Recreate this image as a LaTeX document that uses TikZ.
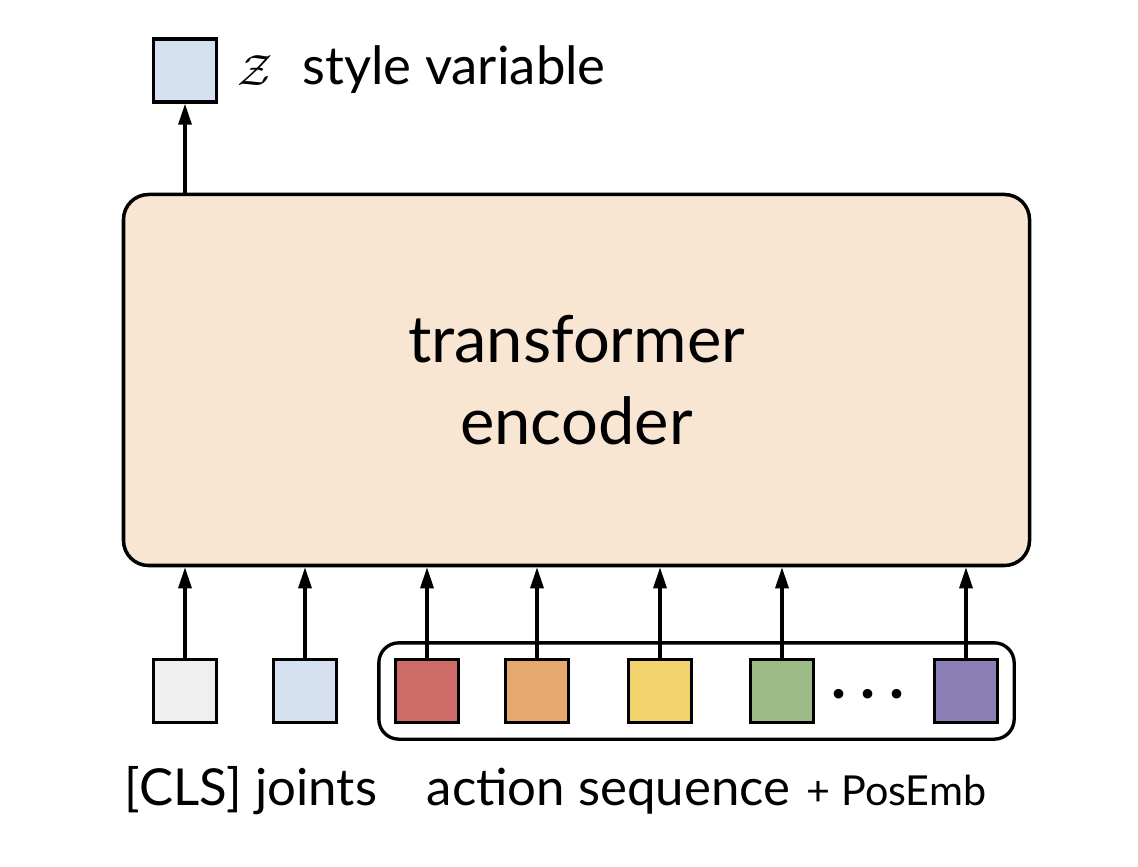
\documentclass[tikz,border=0pt]{standalone}
\usepackage{fontspec}
\setmainfont{Lato}
\usetikzlibrary{positioning,fit,arrows.meta}
\definecolor{encfill}{HTML}{F8E5D2}
\definecolor{clsfill}{HTML}{EFEFEF}
\definecolor{jntfill}{HTML}{D5E1F0}
\definecolor{aRed}{HTML}{CC6B68}
\definecolor{aOrange}{HTML}{E5A96E}
\definecolor{aYellow}{HTML}{F2D36E}
\definecolor{aGreen}{HTML}{9BBA85}
\definecolor{aPurple}{HTML}{8C7FB5}
\tikzset{
    token/.style={draw=black, line width=1.9pt, minimum size=1.26cm, inner sep=0pt},
    feed/.style={-{Triangle[length=0.42cm,width=0.26cm]}, line width=1.8pt},
    lbl/.style={font=\fontsize{29}{32}\selectfont, anchor=base, inner sep=0pt}
}
\begin{document}
\begin{tikzpicture}
            \useasboundingbox (0,0) rectangle (22.76,17.32);
            \node[draw=black, line width=2pt, fill=encfill, rounded corners=0.5cm,
                  minimum width=18.12cm, minimum height=7.42cm, align=center,
                  font=\fontsize{37}{47}\selectfont] (enc) at (11.53,9.72) {transformer\\encoder};
            \node[token, fill=jntfill] (z) at (3.7,15.91) {};
            \node at (5.1,15.9) {\fontsize{27}{29}\selectfont$\mathcal{Z}$};
            \node[lbl, anchor=base west, font=\fontsize{30}{32}\selectfont] (zlbl) at (6.04,15.62) {style variable};
            \draw[feed] (enc.north -| z) -- (z.south); % sortie du token CLS

            % tokens d'entree
            \node[token, fill=clsfill] (cls) at (3.7,3.5) {};
            \node[token, fill=jntfill] (jnt) at (6.1,3.5) {};
            \node[token, fill=aRed]    (a1) at (8.54,3.5) {};
            \node[token, fill=aOrange] (a2) at (10.74,3.5) {};
            \node[token, fill=aYellow] (a3) at (13.2,3.5) {};
            \node[token, fill=aGreen]  (a4) at (15.64,3.5) {};
            \node[token, fill=aPurple] (an) at (19.32,3.5) {};
            \node[font=\fontsize{36}{36}\selectfont\bfseries, inner sep=0pt] (dots) at (17.36,3.44)
                 {.\hspace{0.22em}.\hspace{0.22em}.};
            \node[draw=black, line width=1.9pt, rounded corners=0.4cm, inner sep=0.3cm,
                  fit=(a1) (an)] (seq) {};
            \foreach \Tok in {cls, jnt, a1, a2, a3, a4, an}{
                    \draw[feed] (\Tok.north) -- (\Tok.north |- enc.south);
                }

            \node[lbl] (clslbl) at (5.02,1.22) {[CLS] joints};
            \node[lbl] (seqlbl) at (12.17,1.22) {action sequence};
            \node[lbl, font=\fontsize{23.5}{25}\selectfont] (poslbl) at (17.93,1.22) {+ PosEmb};
        \end{tikzpicture}
\end{document}
